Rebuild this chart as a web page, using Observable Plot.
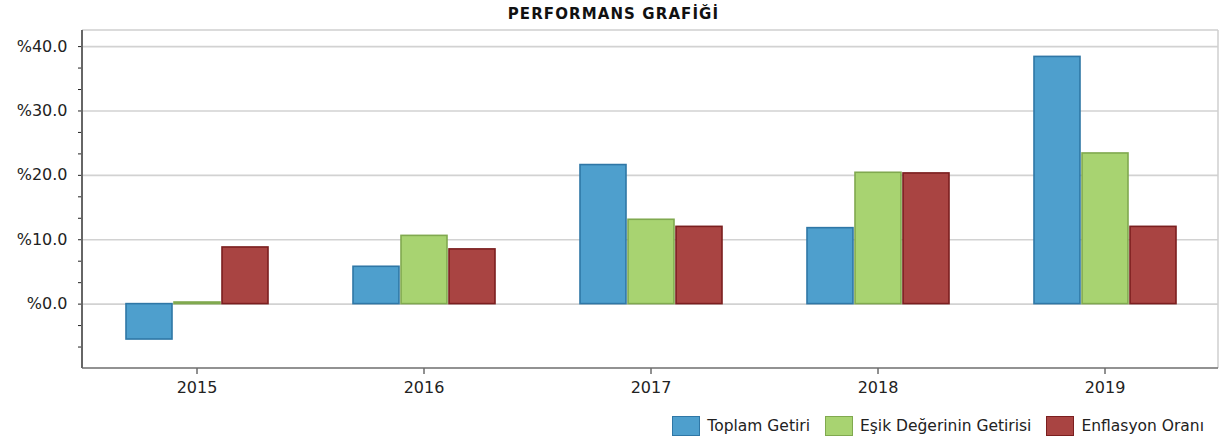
<!DOCTYPE html>
<html>
<head>
<meta charset="utf-8">
<script src="https://cdn.jsdelivr.net/npm/d3@7"></script>
<script src="https://cdn.jsdelivr.net/npm/@observablehq/plot@0.6"></script>
<style>
  html, body { margin: 0; padding: 0; background: #fff; }
  body { width: 1223px; height: 443px; overflow: hidden; font-family: "DejaVu Sans", sans-serif; }
  #title { height: 24px; padding-top: 2px; box-sizing: border-box; text-align: center; font-weight: bold;
           font-size: 15px; letter-spacing: 1.1px; color: #111; line-height: 24px; padding-left: 4px; }
  #legend { height: 39px; display: flex; justify-content: flex-end; align-items: center; padding-right: 19px;
            font-size: 15.5px; color: #222; padding-top: 5px; box-sizing: border-box; }
  .item { display: flex; align-items: center; margin-left: 15px; }
  .sw { width: 26px; height: 18px; margin-right: 7px; border: 1.5px solid; }
</style>
</head>
<body>
<div id="title">PERFORMANS GRAFİĞİ</div>
<div id="chart"></div>
<div id="legend"></div>
<script>
const years = ["2015", "2016", "2017", "2018", "2019"];
const series = ["Toplam Getiri", "Eşik Değerinin Getirisi", "Enflasyon Oranı"];
const toplamGetiri = [-5.5, 5.8, 21.6, 11.8, 38.4];
const esikGetirisi = [0.25, 10.6, 13.1, 20.4, 23.4];
const enflasyonOrani = [8.8, 8.5, 12.0, 20.3, 12.0];
const majorTicks = [0, 10, 20, 30, 40];
const minorTicks = [-6.667, -3.333, 3.333, 6.667, 13.333, 16.667, 23.333, 26.667, 33.333, 36.667];
const fills = ["#4e9fcd", "#a8d371", "#a94442"];
const strokes = ["#2f77a6", "#80a94f", "#7b1f1f"];

const values = [toplamGetiri, esikGetirisi, enflasyonOrani];
const data = years.flatMap((yr, i) => series.map((s, j) => ({year: yr, series: s, value: values[j][i]})));

const chart = Plot.plot({
  width: 1223,
  height: 380,
  marginLeft: 82,
  marginRight: 5,
  marginTop: 6,
  marginBottom: 36,
  style: {fontFamily: "DejaVu Sans", fontSize: "16px", color: "#222", background: "#fff"},
  fx: {domain: years, padding: 0, label: null, axis: "bottom", tickSize: 6, tickPadding: 7},
  x: {domain: series, paddingInner: 0.05, paddingOuter: 0.885, axis: null},
  y: {
    domain: [-10, 42.5],
    ticks: [...minorTicks, ...majorTicks].sort((a, b) => a - b),
    tickFormat: d => majorTicks.includes(d) ? "%" + d.toFixed(1) : "",
    tickSize: 5,
    tickPadding: 11,
    label: null
  },
  marks: [
    Plot.ruleY(majorTicks, {stroke: "#d2d2d2", strokeWidth: 1.6}),
    ...series.map((s, j) => Plot.barY(data.filter(d => d.series === s), {
      fx: "year", x: "series", y: "value",
      fill: fills[j], stroke: strokes[j], strokeWidth: 1.6
    }))
  ]
});
document.getElementById("chart").appendChild(chart);

// frame lines derived from the plot's own scales
const fxS = chart.scale("fx");
const yS = chart.scale("y");
const [xa, xb] = fxS.range;
const yr = yS.range;
const yBottom = Math.max(...yr), yTop = Math.min(...yr);
const svg = d3.select(chart);
const g = svg.append("g");
g.append("line").attr("x1", xa).attr("x2", xb).attr("y1", yTop).attr("y2", yTop).attr("stroke", "#cfcfcf").attr("stroke-width", 1.5);
g.append("line").attr("x1", xb).attr("x2", xb).attr("y1", yTop).attr("y2", yBottom).attr("stroke", "#cfcfcf").attr("stroke-width", 1.5);
g.append("line").attr("x1", xa).attr("x2", xb).attr("y1", yBottom).attr("y2", yBottom).attr("stroke", "#6e6e6e").attr("stroke-width", 1.5);
g.append("line").attr("x1", xa).attr("x2", xa).attr("y1", yTop).attr("y2", yBottom).attr("stroke", "#666").attr("stroke-width", 2);

// legend
const legend = document.getElementById("legend");
series.forEach((s, j) => {
  const it = document.createElement("div");
  it.className = "item";
  const sw = document.createElement("div");
  sw.className = "sw";
  sw.style.background = fills[j];
  sw.style.borderColor = strokes[j];
  const tx = document.createElement("span");
  tx.textContent = s;
  it.appendChild(sw);
  it.appendChild(tx);
  legend.appendChild(it);
});
</script>
</body>
</html>
